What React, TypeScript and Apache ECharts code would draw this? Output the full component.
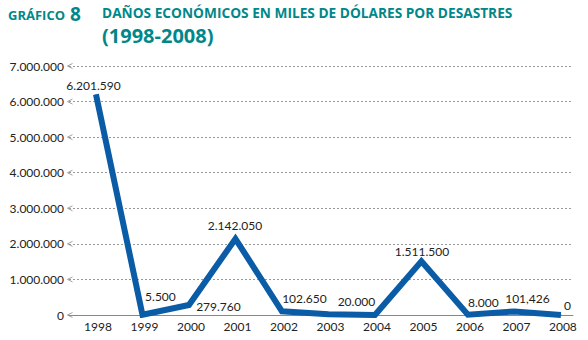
import React, { useEffect, useRef } from "react";
import * as echarts from "echarts";

const years = [1998, 1999, 2000, 2001, 2002, 2003, 2004, 2005, 2006, 2007, 2008];
const damages = [6201590, 5500, 279760, 2142050, 102650, 20000, 0, 1511500, 8000, 101426, 0];
const damageLabels = ["6.201.590", "5.500", "279.760", "2.142.050", "102.650", "20.000", "", "1.511.500", "8.000", "101,426", "0"];
const yTicks = [0, 1000000, 2000000, 3000000, 4000000, 5000000, 6000000, 7000000];
const yMax = 7000000;
const yStep = 1000000;
const xMin = 1997.42;
const xMax = 2008.26;

// label centre relative to the point (px)
const labelShift: [number, number][] = [
  [-2, -8], [18.5, -18], [30, 2], [0, -13], [23, -12], [28.5, -12], [0, 0], [1, -9], [16, -12], [13.5, -12], [7, -9],
];

const fmt = (v: number) => String(Math.round(v)).replace(/\B(?=(\d{3})+(?!\d))/g, ".");

const TEAL = "#00878a";
const BLUE = "#0b5ca6";
const FONT = "Lato, 'Open Sans', sans-serif";

export default function App() {
  const ref = useRef<HTMLDivElement>(null);
  useEffect(() => {
    if (!ref.current) return;
    const chart = echarts.init(ref.current, null, { renderer: "svg" });
    chart.setOption({
      animation: false,
      backgroundColor: "#ffffff",
      textStyle: { fontFamily: FONT },
      graphic: [
        { type: "text", left: 8, top: 8, style: { text: "GRÁFICO", fontFamily: "'Open Sans', sans-serif", fontWeight: "bold", fontSize: 13, fill: TEAL } },
        { type: "text", left: 70, top: 4, style: { text: "8", fontFamily: "'Open Sans', sans-serif", fontWeight: "bold", fontSize: 19, fill: TEAL } },
        { type: "text", left: 102, top: 5, style: { text: "DAÑOS ECONÓMICOS EN MILES DE DÓLARES POR DESASTRES", fontFamily: "'Open Sans', sans-serif", fontWeight: "bold", fontSize: 13.7, lineHeight: 15, fill: TEAL } },
        { type: "text", left: 102, top: 24, style: { text: "(1998-2008)", fontFamily: "'Open Sans', sans-serif", fontWeight: "bold", fontSize: 20, lineHeight: 22, fill: TEAL } },
      ],
      grid: { left: 69, right: 15, top: 66, bottom: 25, containLabel: false },
      xAxis: {
        type: "value",
        min: xMin,
        max: xMax,
        axisLine: { show: true, lineStyle: { color: "#888", width: 1 } },
        axisTick: { show: false },
        splitLine: { show: false },
        axisLabel: {
          customValues: years,
          formatter: (v: number) => String(v),
          color: "#222",
          fontSize: 12,
          fontFamily: FONT,
          margin: 5,
          padding: [0, 0, 0, 4],
        },
      },
      yAxis: {
        type: "value",
        min: 0,
        max: yMax,
        interval: yStep,
        axisLine: { show: false },
        axisTick: { show: false },
        splitLine: { show: true, lineStyle: { color: "#999", type: [2, 2], width: 1 } },
        axisLabel: {
          margin: 5,
          color: "#222",
          fontSize: 12,
          fontFamily: FONT,
          formatter: (v: number) => fmt(v),
        },
      },
      series: [
        {
          type: "scatter",
          data: yTicks.map((t) => [xMin, t]),
          symbol: "path://M5,0L0,2.5L5,5",
          symbolSize: [5, 5],
          symbolOffset: [1, 0],
          itemStyle: { color: "transparent", borderColor: "#888", borderWidth: 1 },
          clip: false,
          silent: true,
          z: 1,
        },
        {
          type: "line",
          data: years.map((y, i) => ({
            value: [y, damages[i]],
            label: {
              show: damageLabels[i] !== "",
              formatter: damageLabels[i],
              position: labelShift[i],
            },
          })),
          symbol: "circle",
          symbolSize: 1,
          showSymbol: true,
          itemStyle: { color: BLUE },
          lineStyle: { color: BLUE, width: 6, join: "miter", cap: "butt" },
          label: { show: true, align: "center", verticalAlign: "middle", color: "#222", fontSize: 12, fontFamily: FONT },
          labelLayout: { hideOverlap: false },
          z: 3,
        },
      ],
    });
    return () => chart.dispose();
  }, []);
  return <div ref={ref} style={{ position: "fixed", left: 0, top: 0, width: 588, height: 340 }} />;
}
